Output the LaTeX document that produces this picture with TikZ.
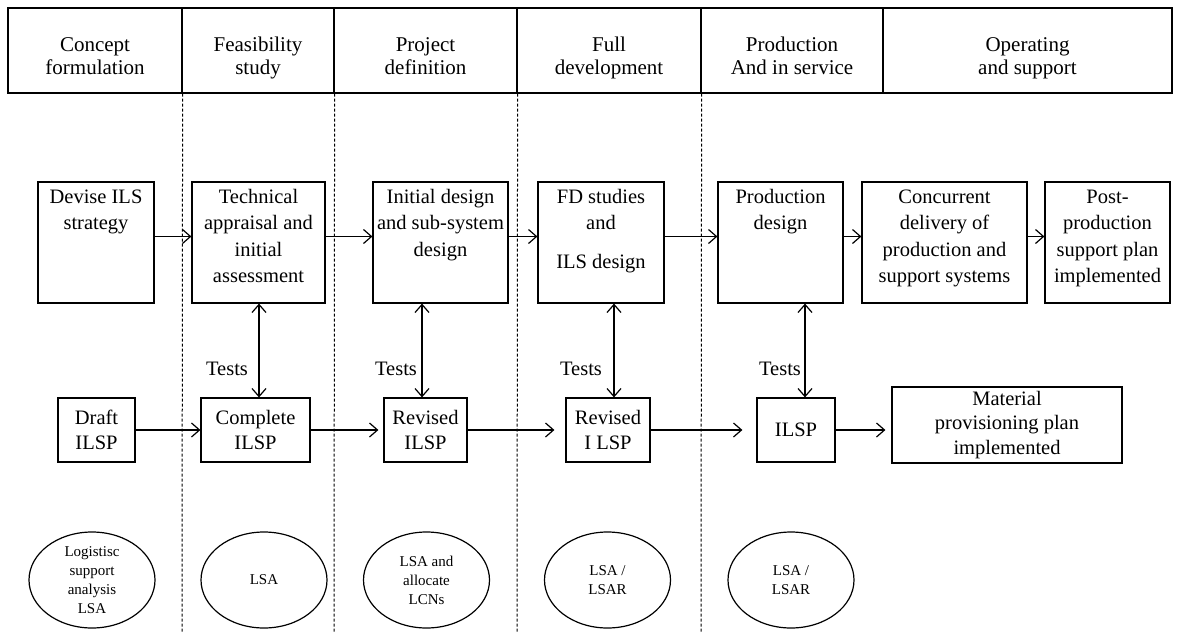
\documentclass[tikz,border=0pt]{standalone}
\usepackage{fontspec}
\setmainfont{Liberation Serif}
\usetikzlibrary{arrows.meta,shapes.geometric}
\newcommand\hdtwo[2]{#1\strut\\#2\strut}
\begin{document}
\begin{tikzpicture}[x=1pt,y=-1pt,
  line width=1.2pt,
  hdr/.style={draw, minimum height=85pt, inner sep=0pt},
  hdrtxt/.style={inner sep=0pt, align=center, font=\fontsize{21}{23}\selectfont},
  box/.style={draw, inner sep=0pt},
  boxtxt/.style={anchor=north, inner sep=0pt, align=center, font=\fontsize{20.5}{26.5}\selectfont},
  small/.style={draw, inner sep=0pt, align=center, font=\fontsize{20.5}{24.5}\selectfont},
  oval/.style={draw, ellipse, minimum width=126pt, minimum height=96pt, inner sep=0pt, align=center, font=\fontsize{15}{19}\selectfont},
  lbl/.style={inner sep=0pt, font=\fontsize{20.5}{25}\selectfont},
  arr/.style={-{Straight Barb[length=8pt,width=14pt]}},
  dbl/.style={{Straight Barb[length=8pt,width=14pt]}-{Straight Barb[length=8pt,width=14pt]}},
  sep/.style={line width=1pt, dash pattern=on 3pt off 2pt}
]
\useasboundingbox (0,0) rectangle (1180,632);

% header
\node[hdr, minimum width=174pt] (h1) at (95,50.5) {};
\node[hdr, minimum width=152pt] (h2) at (258,50.5) {};
\node[hdr, minimum width=183pt] (h3) at (425.5,50.5) {};
\node[hdr, minimum width=184pt] (h4) at (609,50.5) {};
\node[hdr, minimum width=182pt] (h5) at (792,50.5) {};
\node[hdr, minimum width=289pt] (h6) at (1027.5,50.5) {};
\node[hdrtxt] (h1t) at ([yshift=-7.5pt]h1.center) {\hdtwo{Concept}{formulation}};
\node[hdrtxt] (h2t) at ([yshift=-7.5pt]h2.center) {\hdtwo{Feasibility}{study}};
\node[hdrtxt] (h3t) at ([yshift=-7.5pt]h3.center) {\hdtwo{Project}{definition}};
\node[hdrtxt] (h4t) at ([yshift=-7.5pt]h4.center) {\hdtwo{Full}{development}};
\node[hdrtxt] (h5t) at ([yshift=-7.5pt]h5.center) {\hdtwo{Production}{And in service}};
\node[hdrtxt] (h6t) at ([yshift=-7.5pt]h6.center) {\hdtwo{Operating}{and support}};

% dashed phase separators
\coordinate (s1) at (182,632);
\coordinate (s2) at (334,632);
\coordinate (s3) at (517,632);
\coordinate (s4) at (701,632);
\draw[sep] (h1.south east) -- (s1);
\draw[sep] (h2.south east) -- (s2);
\draw[sep] (h3.south east) -- (s3);
\draw[sep] (h4.south east) -- (s4);

% top row
\node[box, minimum width=116pt, minimum height=121pt] (dev) at (96,242.5) {};
\node[boxtxt] (devt) at ([yshift=-2.5pt]dev.north) {Devise ILS\strut\\strategy\strut};
\node[box, minimum width=133pt, minimum height=121pt] (tech) at (258.5,242.5) {};
\node[boxtxt] (techt) at ([yshift=-2.5pt]tech.north) {Technical\strut\\appraisal and\strut\\initial\strut\\assessment\strut};
\node[box, minimum width=135pt, minimum height=121pt] (init) at (440.5,242.5) {};
\node[boxtxt] (initt) at ([yshift=-2.5pt]init.north) {Initial design\strut\\and sub-system\strut\\design\strut};
\node[box, minimum width=126pt, minimum height=121pt] (fd) at (601,242.5) {};
\node[boxtxt] (fdt) at ([yshift=-2.5pt]fd.north) {FD studies\strut\\and\strut\\[12pt]ILS design\strut};
\node[box, minimum width=125pt, minimum height=121pt] (prod) at (780.5,242.5) {};
\node[boxtxt] (prodt) at ([yshift=-2.5pt]prod.north) {Production\strut\\design\strut};
\node[box, minimum width=165pt, minimum height=121pt] (conc) at (944.5,242.5) {};
\node[boxtxt] (conct) at ([yshift=-2.5pt]conc.north) {Concurrent\strut\\delivery of\strut\\production and\strut\\support systems\strut};
\node[box, minimum width=125pt, minimum height=121pt] (post) at (1107.5,242.5) {};
\node[boxtxt] (postt) at ([yshift=-2.5pt]post.north) {Post-\strut\\production\strut\\support plan\strut\\implemented\strut};

\draw[arr] ([yshift=6pt]dev.east) -- ([yshift=6pt]tech.west);
\draw[arr] ([yshift=6pt]tech.east) -- ([yshift=6pt]init.west);
\draw[arr] ([yshift=6pt]init.east) -- ([yshift=6pt]fd.west);
\draw[arr] ([yshift=6pt]fd.east) -- ([yshift=6pt]prod.west);
\draw[arr] ([yshift=6pt]prod.east) -- ([yshift=6pt]conc.west);
\draw[arr] ([yshift=6pt]conc.east) -- ([yshift=6pt]post.west);

% bottom row
\node[small, minimum width=77pt, minimum height=64pt] (draft) at (96.5,430) {Draft\\ILSP};
\node[small, minimum width=109pt, minimum height=64pt] (cil) at (255.5,430) {Complete\\ILSP};
\node[small, minimum width=83pt, minimum height=64pt] (rev1) at (425.5,430) {Revised\\ILSP};
\node[small, minimum width=84pt, minimum height=64pt] (rev2) at (608,430) {Revised\\I LSP};
\node[small, minimum width=78pt, minimum height=64pt] (ilsp) at (796,430) {ILSP};
\node[small, minimum width=230pt, minimum height=76pt] (mat) at (1007,425) {Material\\provisioning plan\\implemented};

\draw[arr] (draft.east) -- (cil.west);
\draw[arr, shorten >=5pt] (cil.east) -- (rev1.west);
\draw[arr, shorten >=11pt] (rev1.east) -- (rev2.west);
\draw[arr, shorten >=14pt] (rev2.east) -- (ilsp.west);
\draw[arr, shorten >=6pt] (ilsp.east) -- (mat.west |- ilsp.east);

% tests
\draw[dbl] ([xshift=0.5pt]tech.south) -- ([xshift=3.5pt]cil.north);
\draw[dbl] ([xshift=-18.5pt]init.south) -- ([xshift=-3.5pt]rev1.north);
\draw[dbl] ([xshift=13pt]fd.south) -- ([xshift=6pt]rev2.north);
\draw[dbl] ([xshift=24.5pt]prod.south) -- ([xshift=9pt]ilsp.north);
\node[lbl] (t1) at (227,369) {Tests};
\node[lbl] (t2) at (396,369) {Tests};
\node[lbl] (t3) at (581,369) {Tests};
\node[lbl] (t4) at (780,369) {Tests};

% ellipses
\node[oval] (e1) at (92,580) {Logistisc\\support\\analysis\\LSA};
\node[oval] (e2) at (264,580) {LSA};
\node[oval] (e3) at (426.5,580) {LSA and\\allocate\\LCNs};
\node[oval] (e4) at (607.5,580) {LSA /\\LSAR};
\node[oval] (e5) at (791,580) {LSA /\\LSAR};
\end{tikzpicture}
\end{document}
